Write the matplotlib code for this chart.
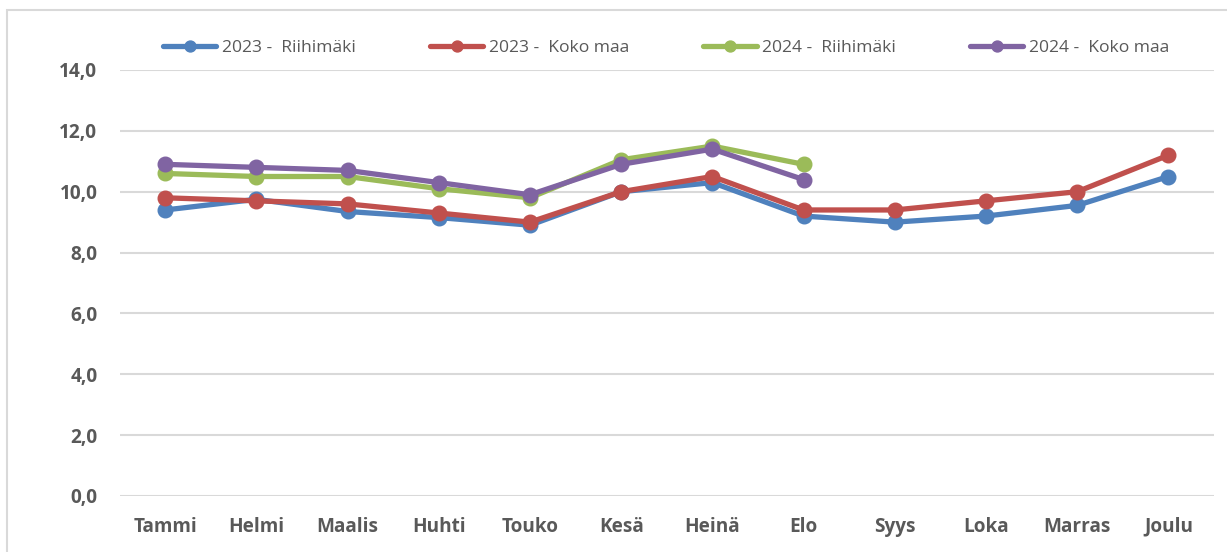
import matplotlib
matplotlib.use("Agg")
import matplotlib.pyplot as plt
from matplotlib.patches import Rectangle
from matplotlib.ticker import FuncFormatter
import numpy as np

matplotlib.rcParams.update({'font.family': ['Open Sans', 'DejaVu Sans']})

months = ["Tammi", "Helmi", "Maalis", "Huhti", "Touko", "Kesä",
          "Heinä", "Elo", "Syys", "Loka", "Marras", "Joulu"]

riihimaki_2023 = [9.4, 9.75, 9.35, 9.15, 8.9, 10.0, 10.3, 9.2, 9.0, 9.2, 9.55, 10.5]
kokomaa_2023 = [9.8, 9.7, 9.6, 9.3, 9.0, 10.0, 10.5, 9.4, 9.4, 9.7, 10.0, 11.2]
riihimaki_2024 = [10.6, 10.5, 10.5, 10.1, 9.8, 11.05, 11.5, 10.9]
kokomaa_2024 = [10.9, 10.8, 10.7, 10.3, 9.9, 10.9, 11.4, 10.4]

series = [
    ("2023 -  Riihimäki", riihimaki_2023, "#4f81bd"),
    ("2023 -  Koko maa", kokomaa_2023, "#c0504d"),
    ("2024 -  Riihimäki", riihimaki_2024, "#9bbb59"),
    ("2024 -  Koko maa", kokomaa_2024, "#8064a2"),
]

text_gray = "#595959"
grid_gray = "#d9d9d9"

fig = plt.figure(figsize=(12.27, 5.52), dpi=100)
ax = fig.add_axes([119.5 / 1227, 1 - 496 / 552, (1214 - 119.5) / 1227, (496 - 70) / 552])

# chart frame (only left and top edge visible in the crop)
fig.patches.append(Rectangle((7 / 1227, -0.1), 1.2, 1 - 10 / 552 + 0.1,
                             transform=fig.transFigure, fill=False,
                             edgecolor=grid_gray, linewidth=1.5))

x = np.arange(len(months))
handles = []
for label, vals, col in series:
    h, = ax.plot(x[:len(vals)], vals, color=col, lw=3.8, marker='o', ms=10.5,
                 label=label, solid_capstyle='round', clip_on=False)
    handles.append(h)

ax.set_xlim(-0.5, len(months) - 0.5)
ax.set_ylim(0, 14)
ax.set_yticks(np.arange(0, 15, 2))
ax.yaxis.set_major_formatter(FuncFormatter(lambda v, p: f"{v:.1f}".replace(".", ",")))
ax.set_xticks(x)
ax.set_xticklabels(months)
ax.grid(axis='y', color=grid_gray, lw=1.5)
ax.set_axisbelow(True)
for s in ax.spines.values():
    s.set_visible(False)
ax.tick_params(length=0, colors=text_gray, labelsize=13.7)
ax.tick_params(axis='y', pad=16)
ax.tick_params(axis='x', pad=15)
for t in ax.get_xticklabels() + ax.get_yticklabels():
    t.set_fontweight('bold')

leg = fig.legend(handles=handles, loc='center', bbox_to_anchor=(666 / 1227, 1 - 48 / 552),
                 ncol=4, frameon=False, fontsize=12.6, handlelength=3.05,
                 handletextpad=0.3, columnspacing=4.25, markerscale=0.75)
for t in leg.get_texts():
    t.set_color(text_gray)

fig.savefig("out.png", dpi=100)
